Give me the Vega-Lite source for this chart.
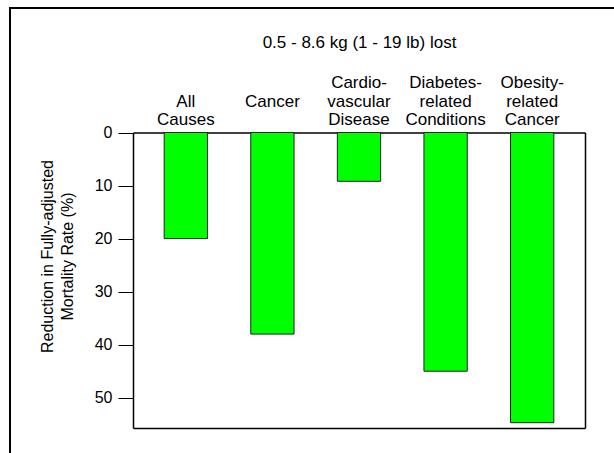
{
  "$schema": "https://vega.github.io/schema/vega-lite/v6.json",
  "width": 614,
  "height": 455,
  "autosize": "none",
  "padding": {"left": 10, "top": 8, "right": -10, "bottom": -10},
  "background": "white",
  "config": {
    "view": {"stroke": "black", "strokeWidth": 2},
    "font": "Liberation Sans",
    "axis": {
      "labelFont": "Liberation Sans",
      "titleFont": "Liberation Sans",
      "labelColor": "black",
      "titleColor": "black",
      "domainColor": "black",
      "tickColor": "black",
      "titleFontWeight": "normal",
      "grid": false
    }
  },
  "data": {
    "values": [
      {"cause": "All Causes", "reduction": 20},
      {"cause": "Cancer", "reduction": 38},
      {"cause": "Cardiovascular Disease", "reduction": 9.2},
      {"cause": "Diabetes-related Conditions", "reduction": 45},
      {"cause": "Obesity-related Cancer", "reduction": 54.7}
    ]
  },
  "layer": [
    {
      "mark": {"type": "bar", "fill": "#00ff00", "stroke": "#222222", "strokeWidth": 1},
      "encoding": {
        "x": {
          "field": "cause",
          "type": "nominal",
          "sort": null,
          "scale": {"range": [123, 575], "paddingInner": 0.5, "paddingOuter": 0.36},
          "axis": {
            "orient": "top",
            "offset": -124.5,
            "ticks": false,
            "domainWidth": 1.5,
            "labelAngle": 0,
            "labelFontSize": 17,
            "labelLineHeight": 18.5,
            "labelPadding": 41,
            "labelLimit": 0,
            "labelExpr": "datum.value == 'All Causes' ? ['', 'All', 'Causes'] : datum.value == 'Cardiovascular Disease' ? ['Cardio-', 'vascular', 'Disease'] : datum.value == 'Diabetes-related Conditions' ? ['Diabetes-', 'related', 'Conditions'] : datum.value == 'Obesity-related Cancer' ? ['Obesity-', 'related', 'Cancer'] : ['', '', datum.label]",
            "title": "0.5 - 8.6 kg (1 - 19 lb) lost",
            "titleFontSize": 17,
            "titlePadding": 22
          }
        },
        "y": {
          "field": "reduction",
          "type": "quantitative",
          "scale": {"domain": [0, 55.7], "range": [124.5, 420], "nice": false, "zero": true},
          "axis": {
            "orient": "left",
            "offset": -123,
            "values": [0, 10, 20, 30, 40, 50],
            "tickSize": 15,
            "tickWidth": 1,
            "domainWidth": 1.5,
            "labelFontSize": 16,
            "labelPadding": 6,
            "title": ["Reduction in Fully-adjusted", "Mortality Rate (%)"],
            "titleFontSize": 16,
            "titleLineHeight": 20,
            "titlePadding": 19,
            "titleY": 248
          }
        }
      }
    },
    {
      "mark": {"type": "bar", "opacity": 0},
      "encoding": {
        "x": {
          "field": "cause",
          "type": "nominal",
          "sort": null,
          "axis": {"orient": "bottom", "offset": -35, "labels": false, "ticks": false, "title": null, "domainWidth": 1.5}
        },
        "y": {
          "field": "reduction",
          "type": "quantitative",
          "axis": {"orient": "right", "offset": -39, "labels": false, "ticks": false, "title": null, "domainWidth": 1.5}
        }
      }
    }
  ],
  "resolve": {"axis": {"x": "independent", "y": "independent"}}
}
